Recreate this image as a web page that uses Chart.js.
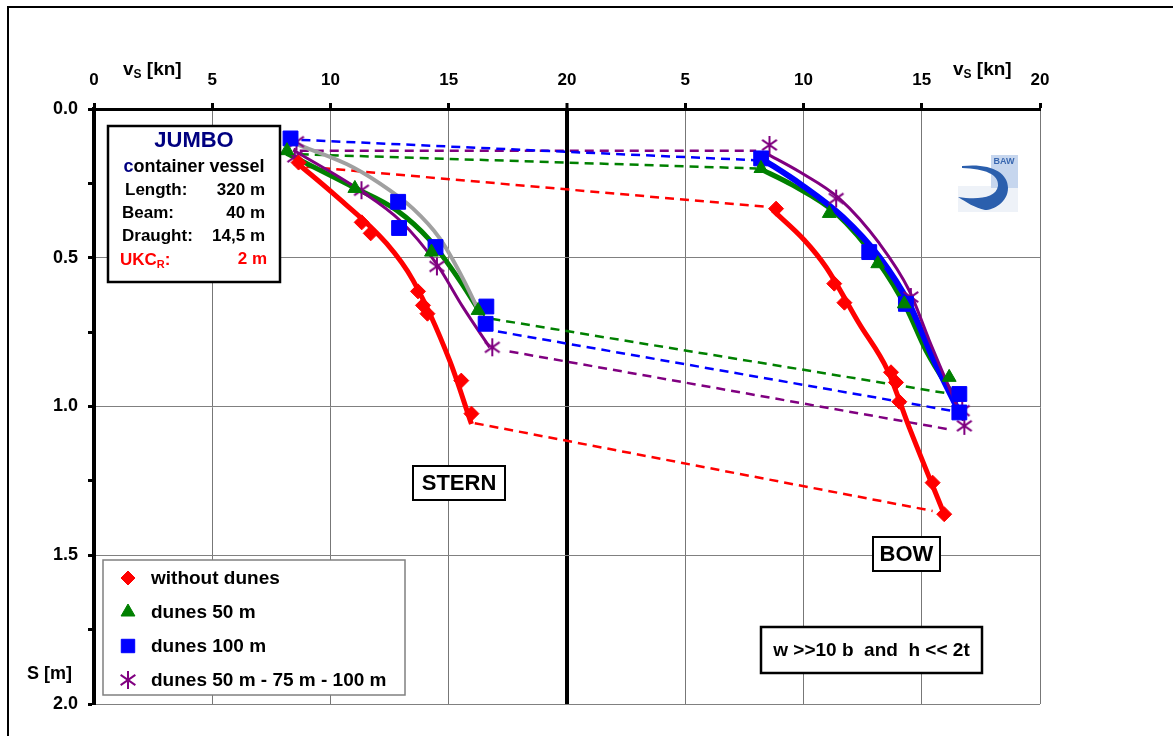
<!DOCTYPE html>
<html>
<head>
<meta charset="utf-8">
<script src="https://cdn.jsdelivr.net/npm/chart.js@4.4.1/dist/chart.umd.min.js"></script>
<style>
body { margin: 0; background: #fff; }
#wrap { width: 1173px; height: 736px; position: relative; }
</style>
</head>
<body>
<div id="wrap"><canvas id="squatChart"></canvas></div>
<script>
// AXES

const xTicks = [0, 5, 10, 15, 20, 25, 30, 35, 40];
const xTickLabels = ["0", "5", "10", "15", "20", "5", "10", "15", "20"];
const yTicks = [0.0, 0.5, 1.0, 1.5, 2.0];

const seriesNames = ["without dunes", "dunes 50 m", "dunes 100 m", "dunes 50 m - 75 m - 100 m"];

// STERN MEASUREMENTS  (speed in kn, sinkage in m)

const sternNoDunesV = [8.65, 11.32, 11.70, 13.70, 13.91, 14.10, 15.53, 15.96];
const sternNoDunesS = [0.18, 0.381, 0.418, 0.613, 0.660, 0.688, 0.913, 1.024];

const sternDunes50V = [8.16, 11.03, 14.27, 16.24];
const sternDunes50S = [0.14, 0.267, 0.481, 0.677];

const sternDunes100V = [8.31, 12.86, 12.90, 14.44, 16.59, 16.56];
const sternDunes100S = [0.099, 0.312, 0.400, 0.464, 0.664, 0.722];

const sternMixedV = [8.56, 8.49, 11.31, 14.50, 16.84];
const sternMixedS = [0.110, 0.161, 0.273, 0.529, 0.801];

// BOW MEASUREMENTS  (bow speed axis 0..20)

const bowNoDunesV = [8.84, 11.30, 11.73, 13.70, 13.91, 14.05, 15.46, 15.95];
const bowNoDunesS = [0.335, 0.587, 0.651, 0.885, 0.919, 0.984, 1.256, 1.362];

const bowDunes50V = [8.20, 11.09, 13.14, 14.26, 16.16];
const bowDunes50S = [0.200, 0.351, 0.520, 0.655, 0.902];

const bowDunes100V = [8.21, 12.78, 14.33, 16.59, 16.59];
const bowDunes100S = [0.166, 0.481, 0.655, 0.958, 1.020];

const bowMixedV = [8.56, 11.38, 14.54, 16.71, 16.80];
const bowMixedS = [0.121, 0.301, 0.632, 1.014, 1.065];

// FITTED CURVES

const sternNoDunesFitV = [8.70, 10.11, 12.37, 13.49, 15.04, 15.96];
const sternNoDunesFitS = [0.189, 0.284, 0.452, 0.576, 0.846, 1.059];

const sternDunes50FitV = [8.14, 10.95, 12.79, 14.20, 15.46, 16.45];
const sternDunes50FitS = [0.149, 0.262, 0.340, 0.441, 0.576, 0.700];

const sternDunes100FitV = [8.28, 10.68, 12.08, 13.49, 14.62, 15.60, 16.59];
const sternDunes100FitS = [0.110, 0.185, 0.250, 0.335, 0.435, 0.570, 0.733];

const sternMixedFitV = [8.42, 11.24, 12.93, 14.48, 15.60, 16.73];
const sternMixedFitS = [0.138, 0.273, 0.374, 0.520, 0.666, 0.801];

const bowNoDunesFitV = [8.70, 10.04, 10.95, 12.36, 13.56, 14.47, 15.95];
const bowNoDunesFitS = [0.340, 0.441, 0.531, 0.722, 0.879, 1.070, 1.362];

const bowDunes50FitV = [8.14, 9.54, 11.38, 13.21, 14.33, 15.18, 16.52];
const bowDunes50FitS = [0.200, 0.256, 0.351, 0.520, 0.666, 0.812, 0.986];

const bowDunes100FitV = [8.22, 9.83, 11.66, 13.21, 14.47, 15.46, 16.59];
const bowDunes100FitS = [0.166, 0.250, 0.363, 0.498, 0.655, 0.835, 1.020];

const bowMixedFitV = [8.42, 9.83, 11.52, 13.21, 14.47, 15.32, 16.76];
const bowMixedFitS = [0.149, 0.211, 0.301, 0.452, 0.610, 0.778, 1.048];

// DASHED LINKS STERN -> BOW  (first = slow end, second = fast end)

const linkNoDunesSternV = [8.98, 16.10];
const linkNoDunesSternS = [0.194, 1.056];
const linkNoDunesBowV = [8.49, 15.46];
const linkNoDunesBowS = [0.329, 1.351];

const linkDunes50SternV = [8.70, 16.80];
const linkDunes50SternS = [0.152, 0.705];
const linkDunes50BowV = [8.00, 16.02];
const linkDunes50BowS = [0.200, 0.955];

const linkDunes100SternV = [8.77, 17.08];
const linkDunes100SternS = [0.104, 0.748];
const linkDunes100BowV = [7.93, 16.24];
const linkDunes100BowS = [0.172, 1.014];

const linkMixedSternV = [8.70, 17.57];
const linkMixedSternS = [0.140, 0.815];
const linkMixedBowV = [8.00, 16.24];
const linkMixedBowS = [0.140, 1.078];


const BOW_OFFSET = 20;
const FONT = "'Liberation Sans', Arial, sans-serif";

const RED = "#ff0000";
const GREEN = "#008000";
const BLUE = "#0000ff";
const PURPLE = "#800080";
const GRAY = "#a0a0a0";


// asterisk marker

function makeAsterisk(size, color) {
    const c = document.createElement("canvas");
    c.width = size;
    c.height = size;
    const g = c.getContext("2d");
    const m = size / 2;
    const r = size / 2 - 1;
    g.strokeStyle = color;
    g.lineWidth = 2;
    [90, 35, 145].forEach(function (deg) {
        const a = deg * Math.PI / 180;
        g.beginPath();
        g.moveTo(m - r * Math.cos(a), m - r * Math.sin(a));
        g.lineTo(m + r * Math.cos(a), m + r * Math.sin(a));
        g.stroke();
    });
    return c;
}

const asterisk = makeAsterisk(20, PURPLE);


function pts(vs, ss, offset) {
    return vs.map(function (v, i) {
        return { x: v + (offset || 0), y: ss[i] };
    });
}

function markers(label, vs, ss, offset, color, style, radius) {
    return {
        label: label,
        data: pts(vs, ss, offset),
        showLine: false,
        pointStyle: style,
        pointRadius: radius,
        pointBackgroundColor: color,
        pointBorderColor: color,
        pointBorderWidth: 1,
        order: 1
    };
}

function curve(vs, ss, offset, color, width) {
    return {
        label: "",
        data: pts(vs, ss, offset),
        showLine: true,
        borderColor: color,
        borderWidth: width,
        pointRadius: 0,
        cubicInterpolationMode: "monotone",
        order: 5
    };
}

function link(sv, ss, bv, bs, i, color) {
    return {
        label: "",
        data: [{ x: sv[i], y: ss[i] }, { x: bv[i] + BOW_OFFSET, y: bs[i] }],
        showLine: true,
        borderColor: color,
        borderWidth: 2.5,
        borderDash: [9, 6],
        pointRadius: 0,
        order: 8
    };
}


const datasets = [
    markers(seriesNames[0], sternNoDunesV, sternNoDunesS, 0, RED, "rectRot", 7.5),
    markers(seriesNames[1], sternDunes50V, sternDunes50S, 0, GREEN, "triangle", 8),
    markers(seriesNames[2], sternDunes100V, sternDunes100S, 0, BLUE, "rect", 10.5),
    markers(seriesNames[3], sternMixedV, sternMixedS, 0, PURPLE, asterisk, 10),

    markers(seriesNames[0], bowNoDunesV, bowNoDunesS, BOW_OFFSET, RED, "rectRot", 7.5),
    markers(seriesNames[1], bowDunes50V, bowDunes50S, BOW_OFFSET, GREEN, "triangle", 8),
    markers(seriesNames[2], bowDunes100V, bowDunes100S, BOW_OFFSET, BLUE, "rect", 10.5),
    markers(seriesNames[3], bowMixedV, bowMixedS, BOW_OFFSET, PURPLE, asterisk, 10),

    curve(sternMixedFitV, sternMixedFitS, 0, PURPLE, 3),
    curve(sternDunes100FitV, sternDunes100FitS, 0, GRAY, 4),
    curve(sternDunes50FitV, sternDunes50FitS, 0, GREEN, 5),
    curve(sternNoDunesFitV, sternNoDunesFitS, 0, RED, 5),

    curve(bowMixedFitV, bowMixedFitS, BOW_OFFSET, PURPLE, 3),
    curve(bowDunes100FitV, bowDunes100FitS, BOW_OFFSET, BLUE, 6),
    curve(bowDunes50FitV, bowDunes50FitS, BOW_OFFSET, GREEN, 5),
    curve(bowNoDunesFitV, bowNoDunesFitS, BOW_OFFSET, RED, 5),

    link(linkNoDunesSternV, linkNoDunesSternS, linkNoDunesBowV, linkNoDunesBowS, 0, RED),
    link(linkNoDunesSternV, linkNoDunesSternS, linkNoDunesBowV, linkNoDunesBowS, 1, RED),
    link(linkDunes50SternV, linkDunes50SternS, linkDunes50BowV, linkDunes50BowS, 0, GREEN),
    link(linkDunes50SternV, linkDunes50SternS, linkDunes50BowV, linkDunes50BowS, 1, GREEN),
    link(linkDunes100SternV, linkDunes100SternS, linkDunes100BowV, linkDunes100BowS, 0, BLUE),
    link(linkDunes100SternV, linkDunes100SternS, linkDunes100BowV, linkDunes100BowS, 1, BLUE),
    link(linkMixedSternV, linkMixedSternS, linkMixedBowV, linkMixedBowS, 0, PURPLE),
    link(linkMixedSternV, linkMixedSternS, linkMixedBowV, linkMixedBowS, 1, PURPLE)
];


// TEXT HELPERS

function textBox(ctx, x1, y1, x2, y2, lw) {
    ctx.fillStyle = "#fff";
    ctx.fillRect(x1, y1, x2 - x1, y2 - y1);
    ctx.strokeStyle = "#000";
    ctx.lineWidth = lw;
    ctx.strokeRect(x1, y1, x2 - x1, y2 - y1);
}

function subText(ctx, x, y, main, sub, rest, size, color) {
    // text with subscript, left aligned at x
    ctx.fillStyle = color;
    ctx.textAlign = "left";
    ctx.textBaseline = "alphabetic";
    ctx.font = "bold " + size + "px " + FONT;
    ctx.fillText(main, x, y);
    let px = x + ctx.measureText(main).width;
    ctx.font = "bold " + Math.round(size * 0.65) + "px " + FONT;
    ctx.fillText(sub, px, y + 3);
    px += ctx.measureText(sub).width;
    ctx.font = "bold " + size + "px " + FONT;
    ctx.fillText(rest, px, y);
}

function drawMarker(ctx, style, color, x, y, r) {
    if (Chart.helpers && Chart.helpers.drawPoint) {
        ctx.fillStyle = color;
        ctx.strokeStyle = color;
        ctx.lineWidth = 1;
        Chart.helpers.drawPoint(ctx, { pointStyle: style, radius: r, rotation: 0, borderWidth: 1 }, x, y);
    }
}


// DECORATION PLUGIN

const decorPlugin = {
    id: "decor",
    afterDraw(chart) {
        const ctx = chart.ctx;
        ctx.save();

        // outer frame
        ctx.strokeStyle = "#000";
        ctx.lineWidth = 2;
        ctx.strokeRect(8, 7, 1400, 1000);

        // axis titles
        subText(ctx, 123, 75, "v", "S", " [kn]", 19, "#000");
        subText(ctx, 953, 75, "v", "S", " [kn]", 19, "#000");
        ctx.font = "bold 18px " + FONT;
        ctx.textAlign = "right";
        ctx.textBaseline = "middle";
        ctx.fillText("S [m]", 72, 674);

        // ship info box
        textBox(ctx, 108, 126, 280, 282, 2.5);
        ctx.textBaseline = "middle";
        ctx.textAlign = "center";
        ctx.fillStyle = "#000080";
        ctx.font = "bold 22px " + FONT;
        ctx.fillText("JUMBO", 194, 141);

        ctx.font = "bold 18px " + FONT;
        const w1 = ctx.measureText("c").width;
        const w2 = ctx.measureText("ontainer vessel").width;
        const cx0 = 194 - (w1 + w2) / 2;
        ctx.textAlign = "left";
        ctx.fillStyle = "#000080";
        ctx.fillText("c", cx0, 167);
        ctx.fillStyle = "#000";
        ctx.fillText("ontainer vessel", cx0 + w1, 167);

        ctx.font = "bold 17px " + FONT;
        const rows = [["Length:", "320 m", 125, 190], ["Beam:", "40 m", 122, 213], ["Draught:", "14,5 m", 122, 236]];
        rows.forEach(function (r) {
            ctx.textAlign = "left";
            ctx.fillText(r[0], r[2], r[3]);
            ctx.textAlign = "right";
            ctx.fillText(r[1], 265, r[3]);
        });
        subText(ctx, 120, 265, "UKC", "R", ":", 17, RED);
        ctx.textAlign = "right";
        ctx.textBaseline = "middle";
        ctx.fillText("2 m", 267, 259);

        // STERN / BOW labels
        textBox(ctx, 413, 466, 505, 500, 2);
        textBox(ctx, 873, 537, 940, 571, 2);
        textBox(ctx, 761, 627, 982, 673, 2.5);
        ctx.fillStyle = "#000";
        ctx.textAlign = "center";
        ctx.textBaseline = "middle";
        ctx.font = "bold 22px " + FONT;
        ctx.fillText("STERN", 459, 484);
        ctx.fillText("BOW", 906.5, 555);
        ctx.font = "bold 19px " + FONT;
        ctx.fillText("w >>10 b  and  h << 2t", 871.5, 651);

        // legend
        ctx.fillStyle = "#fff";
        ctx.fillRect(103, 560, 302, 135);
        ctx.strokeStyle = "#808080";
        ctx.lineWidth = 1.5;
        ctx.strokeRect(103, 560, 302, 135);
        const legendY = [578, 612, 646, 680];
        for (let i = 0; i < 4; i++) {
            const ds = chart.data.datasets[i];
            const r = ds.pointStyle === "rect" ? 9.5 : (ds.pointStyle === "triangle" ? 8 : 7);
            drawMarker(ctx, ds.pointStyle, ds.pointBackgroundColor, 128, legendY[i], r);
            ctx.fillStyle = "#000";
            ctx.font = "bold 19px " + FONT;
            ctx.textAlign = "left";
            ctx.textBaseline = "middle";
            ctx.fillText(ds.label, 151, legendY[i] + 1);
        }

        // BAW logo
        ctx.fillStyle = "#eef2f8";
        ctx.fillRect(958, 186, 60, 26);
        ctx.fillStyle = "#c6d6ee";
        ctx.fillRect(991, 155, 27, 33);
        ctx.fillStyle = "#3a68b0";
        ctx.font = "bold 9px " + FONT;
        ctx.textAlign = "center";
        ctx.fillText("BAW", 1004, 162);
        ctx.fillStyle = "#2b5fad";
        ctx.beginPath();
        ctx.moveTo(962, 166);
        ctx.bezierCurveTo(990, 163, 1008, 172, 1008, 188);
        ctx.bezierCurveTo(1008, 202, 994, 210, 985, 210);
        ctx.bezierCurveTo(975, 208, 966, 202, 958, 197);
        ctx.bezierCurveTo(978, 200, 996, 198, 998, 186);
        ctx.bezierCurveTo(999, 174, 985, 169, 962, 168);
        ctx.closePath();
        ctx.fill();

        ctx.restore();
    }
};


// CHART

const ctx = document.getElementById("squatChart");

new Chart(ctx, {

    type: "scatter",

    data: { datasets: datasets },

    options: {

        responsive: true,

        maintainAspectRatio: false,

        animation: false,

        layout: { padding: { left: 0, top: 0, right: 133, bottom: 32 } },

        plugins: {
            legend: { display: false },
            tooltip: { enabled: false }
        },

        scales: {

            x: {
                type: "linear",
                position: "top",
                min: xTicks[0],
                max: xTicks[xTicks.length - 1],
                afterFit(scale) { scale.height = 109; },
                afterBuildTicks(scale) {
                    scale.ticks = xTicks.map(function (v) { return { value: v }; });
                },
                ticks: {
                    autoSkip: false,
                    maxRotation: 0,
                    padding: 12,
                    color: "#000",
                    font: { family: FONT, size: 17, weight: "bold" },
                    callback: function (v) {
                        const i = xTicks.indexOf(v);
                        return i >= 0 ? xTickLabels[i] : "";
                    }
                },
                grid: {
                    color: function (c) {
                        return c.tick && c.tick.value === 20 ? "#000" : "#777";
                    },
                    lineWidth: function (c) {
                        return c.tick && c.tick.value === 20 ? 4 : 1;
                    },
                    tickColor: "#000",
                    tickWidth: 3,
                    tickLength: 6
                },
                border: { color: "#000", width: 3 }
            },

            y: {
                type: "linear",
                position: "left",
                reverse: true,
                min: yTicks[0],
                max: yTicks[yTicks.length - 1],
                afterFit(scale) { scale.width = 94; },
                ticks: {
                    stepSize: 0.25,
                    autoSkip: false,
                    padding: 10,
                    color: "#000",
                    font: { family: FONT, size: 18, weight: "bold" },
                    callback: function (v) {
                        return yTicks.some(function (t) { return Math.abs(t - v) < 1e-6; }) ? v.toFixed(1) : "";
                    }
                },
                grid: {
                    color: function (c) {
                        if (!c.tick) return "#808080";
                        return yTicks.some(function (t) { return Math.abs(t - c.tick.value) < 1e-6; }) ? "#808080" : "rgba(0,0,0,0)";
                    },
                    tickColor: "#000",
                    tickWidth: 3,
                    tickLength: 6
                },
                border: { color: "#000", width: 4 }
            }
        }
    },

    plugins: [decorPlugin]
});
</script>
</body>
</html>
